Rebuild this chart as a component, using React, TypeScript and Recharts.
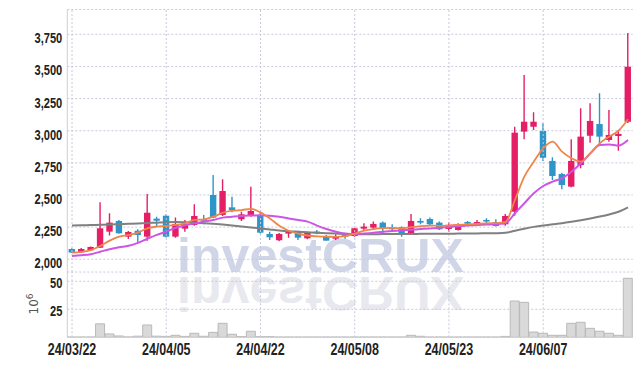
import React from 'react';
import { ComposedChart, Bar, Line, XAxis, YAxis, CartesianGrid, ReferenceLine } from 'recharts';

const dates = [
  '24/03/22','24/03/25','24/03/26','24/03/27','24/03/28','24/03/29','24/04/01','24/04/02','24/04/03','24/04/04',
  '24/04/05','24/04/08','24/04/09','24/04/11','24/04/12','24/04/15','24/04/16','24/04/17','24/04/18','24/04/19',
  '24/04/22','24/04/23','24/04/24','24/04/25','24/04/26','24/04/29','24/04/30','24/05/02','24/05/03','24/05/07',
  '24/05/08','24/05/09','24/05/10','24/05/13','24/05/14','24/05/16','24/05/17','24/05/20','24/05/21','24/05/22',
  '24/05/23','24/05/24','24/05/27','24/05/28','24/05/29','24/05/30','24/05/31','24/06/03','24/06/04','24/06/05',
  '24/06/07','24/06/10','24/06/11','24/06/12','24/06/13','24/06/14','24/06/17','24/06/18','24/06/19','24/06/20',
];

const opens = [
  2080, 2054, 2070, 2090, 2215, 2298, 2176, 2222, 2176, 2316,
  2339, 2176, 2238, 2267, 2313, 2500, 2345, 2404, 2311, 2337,
  2345, 2197, 2148, 2202, 2215, 2163, 2215, 2176, 2160, 2189,
  2181, 2238, 2246, 2285, 2246, 2249, 2197, 2298, 2313, 2285,
  2236, 2228, 2290, 2264, 2306, 2288, 2272, 2370, 2993, 3031,
  2998, 2765, 2663, 2565, 2733, 2961, 3052, 2928, 2959, 3070,
];
const highs = [
  2085, 2088, 2100, 2443, 2358, 2306, 2220, 2233, 2508, 2331,
  2350, 2324, 2306, 2428, 2345, 2656, 2622, 2487, 2370, 2565,
  2360, 2215, 2205, 2220, 2222, 2215, 2228, 2189, 2194, 2205,
  2246, 2280, 2293, 2293, 2272, 2254, 2352, 2319, 2324, 2293,
  2288, 2280, 2298, 2306, 2319, 2311, 2352, 3031, 3433, 3143,
  3058, 2793, 2674, 2933, 3174, 3213, 3291, 3161, 3006, 3760,
];
const lows = [
  2048, 2050, 2066, 2088, 2184, 2198, 2158, 2132, 2145, 2259,
  2170, 2168, 2215, 2261, 2272, 2319, 2337, 2365, 2298, 2331,
  2200, 2150, 2140, 2168, 2150, 2155, 2194, 2145, 2150, 2160,
  2176, 2220, 2233, 2207, 2215, 2176, 2197, 2272, 2267, 2228,
  2215, 2223, 2267, 2259, 2267, 2254, 2261, 2339, 2933, 3006,
  2765, 2617, 2544, 2560, 2708, 2907, 2881, 2915, 2845, 3060,
];
const closes = [
  2052, 2080, 2096, 2241, 2285, 2202, 2212, 2189, 2362, 2300,
  2176, 2275, 2275, 2337, 2303, 2324, 2531, 2383, 2350, 2376,
  2207, 2171, 2197, 2212, 2168, 2207, 2202, 2145, 2181, 2181,
  2241, 2254, 2275, 2238, 2236, 2197, 2298, 2285, 2272, 2233,
  2267, 2259, 2277, 2290, 2296, 2259, 2337, 2985, 3070, 3070,
  2790, 2648, 2578, 2765, 2954, 3076, 2954, 2967, 2975, 3498,
];

// volume in millions of shares
const volumes = [
  0.2, 0.2, 0.2, 12, 3, 1.2, 0.3, 1, 11, 1,
  0.8, 1.8, 0.8, 3.6, 0.9, 4.4, 12.5, 2.7, 0.6, 5.4,
  0.6, 0.6, 0.2, 0.2, 0.2, 0.2, 0.2, 0.2, 0.2, 0.2,
  0.2, 0.2, 0.2, 0.2, 0.2, 0.2, 1.8, 0.9, 0.2, 0.2,
  0.2, 0.2, 0.2, 0.2, 0.2, 0.2, 0.8, 32.4, 31.2, 4.7,
  3.6, 1.8, 1.8, 12.5, 13.4, 8, 5.4, 3.6, 1.8, 52.7,
];

const maShort = [
  2051, 2057, 2072, 2103, 2145, 2176, 2189, 2207, 2241, 2254,
  2259, 2267, 2280, 2306, 2311, 2331, 2362, 2378, 2383, 2392,
  2365, 2318, 2260, 2222, 2200, 2185, 2178, 2176, 2174, 2180,
  2200, 2222, 2235, 2242, 2244, 2240, 2250, 2258, 2262, 2260,
  2264, 2268, 2272, 2276, 2280, 2281, 2290, 2461, 2643, 2759,
  2863, 2915, 2837, 2786, 2759, 2824, 2902, 2954, 3000, 3089,
];
const maMid = [
  2026, 2031, 2039, 2059, 2078, 2093, 2105, 2128, 2160, 2190,
  2215, 2245, 2265, 2280, 2293, 2306, 2324, 2331, 2337, 2340,
  2342, 2338, 2330, 2318, 2305, 2293, 2262, 2235, 2214, 2200,
  2196, 2200, 2206, 2215, 2220, 2225, 2230, 2235, 2240, 2245,
  2252, 2257, 2262, 2266, 2270, 2274, 2280, 2358, 2436, 2513,
  2570, 2604, 2630, 2681, 2747, 2824, 2889, 2893, 2885, 2928,
];
const maLong = [
  2262, 2264, 2266, 2268, 2270, 2273, 2276, 2279, 2282, 2285,
  2288, 2289, 2288, 2285, 2281, 2276, 2270, 2263, 2255, 2248,
  2240, 2232, 2224, 2218, 2214, 2210, 2206, 2203, 2200, 2197,
  2195, 2195, 2195, 2196, 2196, 2197, 2197, 2198, 2198, 2199,
  2199, 2200, 2200, 2201, 2202, 2203, 2206, 2222, 2238, 2252,
  2263, 2272, 2281, 2292, 2304, 2317, 2332, 2349, 2370, 2404,
];

const priceTicks = [2000, 2250, 2500, 2750, 3000, 3250, 3500, 3750];
const volumeTicks = [25, 50];
const labelDates = ['24/03/22', '24/04/05', '24/04/22', '24/05/08', '24/05/23', '24/06/07'];

const RED = '#E41F66';
const BLUE = '#2E95C8';
const GRID = '#c6c8dc';
const FRAME = '#cfcfd4';
const FONT = "'Liberation Sans', Arial, sans-serif";

const data = dates.map((d, i) => ({
  date: d,
  range: [lows[i], highs[i]],
  open: opens[i],
  high: highs[i],
  low: lows[i],
  close: closes[i],
  vol: volumes[i],
  maShort: maShort[i],
  maMid: maMid[i],
  maLong: maLong[i],
}));

const Candle = (props: any) => {
  const p = props.payload || props;
  const { open, close, high, low } = p;
  const x = props.x as number;
  const w = props.width as number;
  const yTop = Math.min(props.y, props.y + props.height);
  const h = Math.abs(props.height);
  const up = close >= open;
  const color = up ? RED : BLUE;
  const ppu = high - low > 0 ? h / (high - low) : 0;
  const yOf = (v: number) => yTop + (high - v) * ppu;
  const cx = x + w / 2;
  const bTop = yOf(Math.max(open, close));
  const bBot = yOf(Math.min(open, close));
  const bw = 6.4;
  return (
    <g>
      <line x1={cx} x2={cx} y1={yTop} y2={yTop + h} stroke={color} strokeWidth={1.4} />
      <rect x={cx - bw / 2} y={bTop} width={bw} height={Math.max(bBot - bTop, 1.6)} fill={color} />
    </g>
  );
};

const PriceTick = (props: any) => {
  const { x, y, payload } = props;
  return (
    <text transform={`translate(${x},${y}) scale(0.74,1)`} x={0} y={0} dy={9} textAnchor="end"
      fontFamily={FONT} fontWeight="bold" fontSize={15} fill="#222">
      {Number(payload.value).toLocaleString('en-US')}
    </text>
  );
};

const VolTick = (props: any) => {
  const { x, y, payload } = props;
  return (
    <text transform={`translate(${x},${y}) scale(0.74,1)`} x={0} y={0} dy={6.5} textAnchor="end"
      fontFamily={FONT} fontWeight="bold" fontSize={15} fill="#222">
      {payload.value}
    </text>
  );
};

const DateTick = (props: any) => {
  const { x, y, payload } = props;
  return (
    <text transform={`translate(${x},${y}) scale(0.78,1)`} x={0} y={0} dy={10} textAnchor="middle"
      fontFamily={FONT} fontWeight="bold" fontSize={16} fill="#222">
      {payload.value}
    </text>
  );
};

export default function App() {
  return (
    <div style={{ position: 'absolute', left: 0, top: 0, width: 642, height: 366, background: '#fff' }}>
      <svg width={642} height={366} style={{ position: 'absolute', left: 0, top: 0 }}>
        <text x={177} y={272} fontFamily="'Liberation Sans', Arial, sans-serif" fontWeight="bold" fontSize={49}
          fill="#d0d6e8" textLength={287} lengthAdjust="spacingAndGlyphs">investCRUX</text>
        <text x={177} y={271} transform="translate(0,548) scale(1,-1)" fontFamily="'Liberation Sans', Arial, sans-serif"
          fontWeight="bold" fontSize={49} fill="#e8e8ef" textLength={287} lengthAdjust="spacingAndGlyphs">investCRUX</text>
        <text transform="translate(38,304) rotate(-90)" textAnchor="middle" fontFamily="'DejaVu Sans', sans-serif"
          fontSize={12} fill="#555">10<tspan dy={-5} fontSize={9}>6</tspan></text>
      </svg>
      <div style={{ position: 'absolute', left: 0, top: 0 }}>
        <ComposedChart width={642} height={272} data={data} margin={{ top: 9.5, right: 9.3, bottom: 0, left: 0 }}>
          <CartesianGrid vertical={false} stroke={GRID} strokeDasharray="2 2" />
          <XAxis dataKey="date" height={0} tick={false} tickLine={false} axisLine={{ stroke: FRAME }} />
          <XAxis xAxisId="top" dataKey="date" orientation="top" height={0} tick={false} tickLine={false} axisLine={{ stroke: FRAME }} />
          <YAxis width={67.3} domain={[1901, 3943]} ticks={priceTicks} tick={<PriceTick />} tickLine={false}
            tickSize={0} tickMargin={5} axisLine={{ stroke: FRAME }} allowDataOverflow />
          <YAxis yAxisId="right" orientation="right" width={0} domain={[0, 1]} tick={false} tickLine={false} axisLine={{ stroke: FRAME }} />
          {labelDates.map((d) => (
            <ReferenceLine key={d} x={d} stroke={GRID} strokeDasharray="2 2" />
          ))}
          <Line dataKey="maLong" type="monotone" stroke="#808080" strokeWidth={2} dot={false} isAnimationActive={false} />
          <Line dataKey="maMid" type="monotone" stroke="#CC55E6" strokeWidth={2} dot={false} isAnimationActive={false} />
          <Line dataKey="maShort" type="monotone" stroke="#F0854A" strokeWidth={1.8} dot={false} isAnimationActive={false} />
          <Bar dataKey="range" barSize={7} shape={<Candle />} isAnimationActive={false} />
        </ComposedChart>
      </div>
      <div style={{ position: 'absolute', left: 0, top: 272 }}>
        <ComposedChart width={642} height={94} data={data} barCategoryGap={0} margin={{ top: 0, right: 9.3, bottom: 0, left: 0 }}>
          <CartesianGrid vertical={false} stroke={GRID} strokeDasharray="2 2" />
          <XAxis dataKey="date" height={28.7} interval={9} tick={<DateTick />} tickLine={false} axisLine={{ stroke: FRAME }} />
          <YAxis width={67.3} domain={[0, 58.3]} ticks={volumeTicks} tick={<VolTick />} tickLine={false}
            tickSize={0} tickMargin={5} axisLine={{ stroke: FRAME }} allowDataOverflow />
          <YAxis yAxisId="right" orientation="right" width={0} domain={[0, 1]} tick={false} tickLine={false} axisLine={{ stroke: FRAME }} />
          {labelDates.map((d) => (
            <ReferenceLine key={d} x={d} stroke={GRID} strokeDasharray="2 2" />
          ))}
          <Bar dataKey="vol" fill="#d9d9d9" stroke="#b9b9b9" strokeWidth={1} isAnimationActive={false} />
        </ComposedChart>
      </div>
    </div>
  );
}
